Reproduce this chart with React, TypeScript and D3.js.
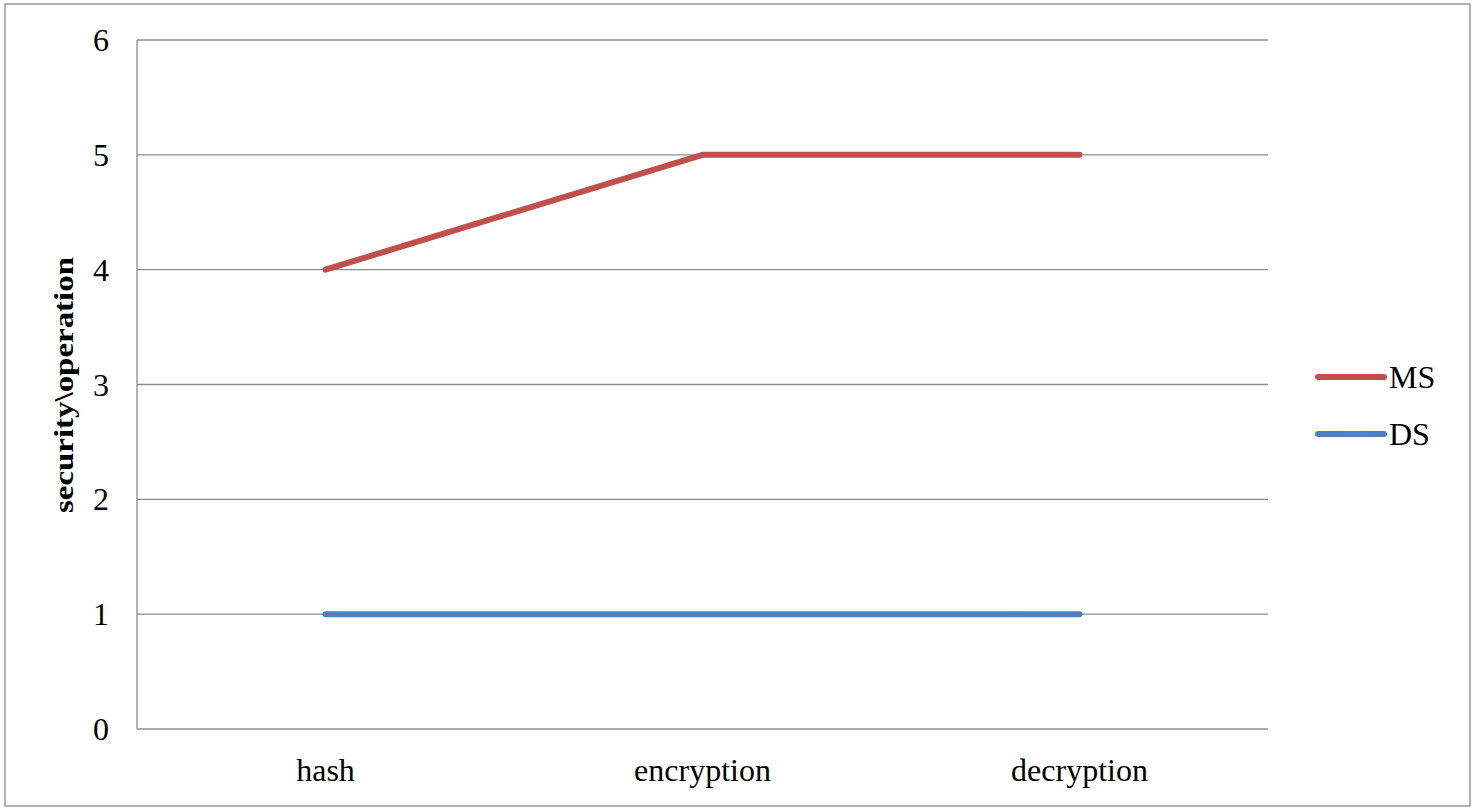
import React from "react";
import * as d3 from "d3";

// Operation categories and security levels per scheme
const categories: string[] = ["hash", "encryption", "decryption"];
const msValues: number[] = [4, 5, 5];
const dsValues: number[] = [1, 1, 1];
const yTicks: number[] = [0, 1, 2, 3, 4, 5, 6];
const seriesNames: string[] = ["MS", "DS"];
const seriesColors: string[] = ["#C0504D", "#4F81BD"];

const W = 1478;
const H = 809;
const plot = { left: 137, right: 1268, top: 40, bottom: 729 };
const FONT = "'Liberation Serif', 'Times New Roman', serif";
const FS = 32;

export default function App() {
  const x = d3
    .scaleBand<string>()
    .domain(categories)
    .range([plot.left, plot.right])
    .paddingInner(0)
    .paddingOuter(0);
  const y = d3.scaleLinear().domain([0, 6]).range([plot.bottom, plot.top]);

  const line = d3
    .line<[string, number]>()
    .x((d) => (x(d[0]) ?? 0) + x.bandwidth() / 2)
    .y((d) => y(d[1]));

  const series = [msValues, dsValues];

  return (
    <svg
      width={W}
      height={H}
      style={{ position: "absolute", left: 0, top: 0, background: "#fff" }}
    >
      <rect x={5} y={4} width={1465} height={802} fill="#fff" stroke="#9a9a9a" strokeWidth={1.5} />

      {/* horizontal gridlines */}
      {yTicks.map((t) => (
        <line
          key={`g${t}`}
          x1={plot.left}
          x2={plot.right}
          y1={y(t)}
          y2={y(t)}
          stroke="#8c8c8c"
          strokeWidth={1.3}
        />
      ))}
      {/* y axis line */}
      <line x1={plot.left} x2={plot.left} y1={plot.top} y2={plot.bottom} stroke="#8c8c8c" strokeWidth={1.3} />

      {/* y tick labels */}
      {yTicks.map((t) => (
        <text
          key={`t${t}`}
          x={109}
          y={y(t) + 11}
          textAnchor="end"
          fontFamily={FONT}
          fontSize={FS}
          fill="#000"
        >
          {t}
        </text>
      ))}

      {/* category labels */}
      {categories.map((c) => (
        <text
          key={c}
          x={(x(c) ?? 0) + x.bandwidth() / 2}
          y={781}
          textAnchor="middle"
          fontFamily={FONT}
          fontSize={FS}
          fill="#000"
        >
          {c}
        </text>
      ))}

      {/* y axis title */}
      <text
        transform={`translate(73, 385) rotate(-90)`}
        textAnchor="middle"
        fontFamily={FONT}
        fontWeight="bold"
        fontSize={28}
        textLength={256}
        lengthAdjust="spacingAndGlyphs"
        fill="#000"
      >
        security\operation
      </text>

      {/* series lines */}
      {series.map((vals, i) => (
        <path
          key={seriesNames[i]}
          d={line(categories.map((c, j) => [c, vals[j]] as [string, number])) ?? ""}
          fill="none"
          stroke={seriesColors[i]}
          strokeWidth={6}
          strokeLinecap="round"
          strokeLinejoin="round"
        />
      ))}

      {/* legend */}
      {seriesNames.map((n, i) => {
        const ly = 377 + i * 57;
        return (
          <g key={`l${n}`}>
            <line x1={1318} x2={1384} y1={ly} y2={ly} stroke={seriesColors[i]} strokeWidth={6} strokeLinecap="round" />
            <text x={1389} y={ly + 11} fontFamily={FONT} fontSize={FS} fill="#000">
              {n}
            </text>
          </g>
        );
      })}
    </svg>
  );
}
